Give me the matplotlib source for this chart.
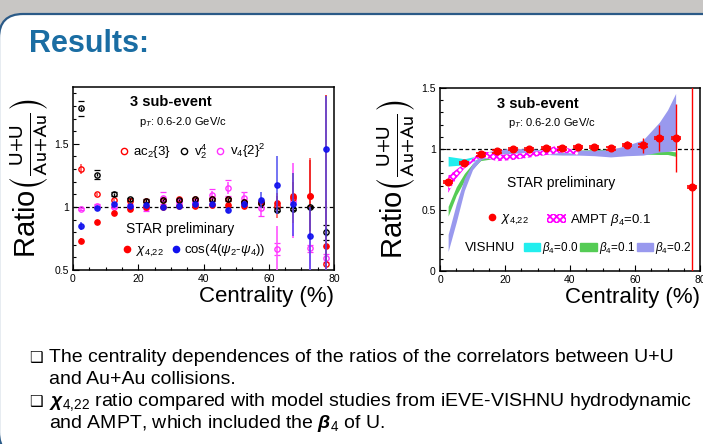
import matplotlib
matplotlib.use("Agg")
import matplotlib.pyplot as plt
from matplotlib.patches import FancyBboxPatch, Patch
from matplotlib.lines import Line2D
from matplotlib.ticker import MultipleLocator

plt.rcParams['font.family'] = ['Liberation Sans', 'DejaVu Sans']
plt.rcParams['mathtext.fontset'] = 'custom'
plt.rcParams['mathtext.rm'] = 'Liberation Sans'
plt.rcParams['mathtext.it'] = 'Liberation Sans:italic'
plt.rcParams['mathtext.bf'] = 'Liberation Sans:italic:bold'
plt.rcParams['hatch.linewidth'] = 1.3

# ---- data: left panel (ratio U+U / Au+Au vs centrality) ----
cent = [2.5, 7.5, 12.5, 17.5, 22.5, 27.5, 32.5, 37.5,
        42.5, 47.5, 52.5, 57.5, 62.5, 67.5, 72.5, 77.5]

ac2 = [1.30, 1.10, 1.055, 1.045, 1.05, 1.055, 1.06, 1.06,
       1.06, 1.065, 1.04, 1.03, 1.01, 1.07, 1.09, 0.545]
ac2_err = [0.04, 0.01, 0.01, 0.01, 0.01, 0.01, 0.01, 0.01,
           0.01, 0.02, 0.02, 0.03, 0.1, 0.2, 0.3, 0.5]

v24 = [1.78, 1.255, 1.10, 1.06, 1.05, 1.055, 1.055, 1.06,
       1.06, 1.06, 1.04, 1.03, 0.978, 0.985, 1.0, 0.80]
v24_err = [0.01, 0.01, 0.01, 0.01, 0.01, 0.01, 0.01, 0.01,
           0.01, 0.01, 0.01, 0.01, 0.01, 0.01, 0.01, 0.03]
v24_sys = [0.06, 0.035, 0.015, 0.01, 0.01, 0.01, 0.01, 0.01,
           0.01, 0.01, 0.01, 0.01, 0.01, 0.01, 0.01, 0.06]

v42 = [0.985, 1.01, 1.0, 1.0, 0.99, 1.07, 1.04, 1.04,
       1.095, 1.15, 1.07, 0.99, 0.667, 1.05, 0.672, 0.593]
v42_err = [0.01, 0.01, 0.01, 0.01, 0.01, 0.02, 0.02, 0.02,
           0.03, 0.05, 0.05, 0.06, 0.18, 0.3, 0.3, 0.4]
v42_sys = [0.01, 0.01, 0.01, 0.02, 0.02, 0.045, 0.02, 0.02,
           0.05, 0.065, 0.05, 0.06, 0.05, 0.03, 0.03, 0.03]

chi = [0.73, 0.883, 0.955, 0.98, 1.0, 1.0, 1.01, 1.005,
       1.015, 1.015, 1.005, 1.035, 1.03, 1.09, 1.09, 0.69]
chi_err = [0.02, 0.01, 0.01, 0.01, 0.01, 0.01, 0.01, 0.01,
           0.01, 0.01, 0.01, 0.03, 0.06, 0.11, 0.28, 1.2]

cos42 = [0.85, 0.99, 1.02, 1.01, 1.015, 1.0, 1.01, 1.02,
         1.02, 0.975, 1.02, 1.055, 1.175, 1.02, 0.772, 1.46]
cos42_lo = [0.03, 0.01, 0.01, 0.01, 0.01, 0.01, 0.01, 0.01,
            0.02, 0.02, 0.03, 0.06, 0.23, 0.25, 0.4, 1.0]
cos42_hi = [0.03, 0.01, 0.01, 0.01, 0.01, 0.01, 0.01, 0.01,
            0.02, 0.02, 0.03, 0.06, 0.23, 0.25, 0.23, 0.42]

# ---- data: right panel model bands ----
band_x = [2.5, 5, 7.5, 10, 12.5, 15, 17.5, 20, 22.5, 27.5,
          32.5, 37.5, 42.5, 47.5, 52.5, 57.5, 62.5, 67.5, 70, 72.5]
b00_lo = [0.86, 0.865, 0.87, 0.895, 0.92, 0.93, 0.935, 0.94, 0.945, 0.95,
          0.955, 0.955, 0.96, 0.96, 0.96, 0.96, 0.96, 0.96, 0.96, 0.96]
b00_hi = [0.94, 0.93, 0.92, 0.935, 0.96, 0.965, 0.97, 0.97, 0.975, 0.975,
          0.98, 0.98, 0.985, 0.985, 0.985, 0.985, 0.985, 0.98, 0.98, 0.975]
b01_lo = [0.45, 0.62, 0.74, 0.84, 0.905, 0.915, 0.92, 0.93, 0.94, 0.95,
          0.955, 0.96, 0.965, 0.97, 0.97, 0.965, 0.96, 0.955, 0.955, 0.94]
b01_hi = [0.53, 0.69, 0.80, 0.88, 0.93, 0.94, 0.95, 0.96, 0.97, 0.97,
          0.975, 0.98, 0.99, 0.995, 1.0, 1.0, 0.995, 0.99, 0.985, 0.975]
b02_lo = [0.16, 0.40, 0.66, 0.83, 0.91, 0.935, 0.95, 0.955, 0.96, 0.96,
          0.955, 0.95, 0.95, 0.945, 0.935, 0.945, 0.95, 0.975, 0.98, 0.99]
b02_hi = [0.30, 0.55, 0.76, 0.88, 0.955, 0.98, 0.99, 1.0, 1.005, 1.0,
          0.995, 0.99, 0.99, 0.99, 0.995, 1.03, 1.075, 1.22, 1.32, 1.455]

ampt_x = [2.5, 5, 7.5, 10, 12.5, 15, 17.5, 20, 22.5, 25,
          27.5, 30, 32.5, 35, 37.5, 40, 42.5]
ampt_lo = [0.64, 0.76, 0.84, 0.89, 0.93, 0.92, 0.90, 0.905, 0.91, 0.92,
           0.93, 0.94, 0.95, 0.96, 0.97, 0.965, 0.95]
ampt_hi = [0.78, 0.83, 0.88, 0.92, 0.98, 0.975, 0.955, 0.955, 0.96, 0.965,
           0.97, 0.98, 0.995, 1.02, 1.03, 1.0, 0.98]

W, H = 703, 444
CHI = r'$\chi_{4{,}22}$'


def px(x, y):
    return x / W, 1 - y / H


def style_axes(ax, ylim, yticks, ylabels):
    ax.set_xlim(0, 80)
    ax.set_ylim(*ylim)
    ax.set_xticks([0, 20, 40, 60, 80])
    ax.set_yticks(yticks)
    ax.set_yticklabels(ylabels)
    ax.xaxis.set_minor_locator(MultipleLocator(5))
    ax.yaxis.set_minor_locator(MultipleLocator(0.1))
    ax.tick_params(which='both', direction='in', labelsize=7.5, pad=3,
                   top=False, right=False, width=0.8)
    ax.tick_params(which='major', length=4.5)
    ax.tick_params(which='minor', length=2.2)
    for sp in ax.spines.values():
        sp.set_linewidth(1.1)
    ax.axhline(1.0, color='black', ls=(0, (3, 2)), lw=0.9, zorder=1)
    ax.set_xlabel('Centrality (%)', fontsize=16, ha='right', x=1.0, labelpad=1)
    ax.set_ylabel(r'Ratio$\left(\frac{\mathrm{U{+}U}}{\mathrm{Au{+}Au}}\right)$',
                  fontsize=21, math_fontfamily='stixsans')
    ax.yaxis.set_label_coords(-0.09, 0.5)


fig = plt.figure(figsize=(W / 100, H / 100), dpi=100)
fig.patch.set_facecolor('#c8c6c4')
slide = FancyBboxPatch((-0.01, -0.12), 7.4, 4.42,
                       boxstyle='round,pad=0,rounding_size=0.24',
                       transform=fig.dpi_scale_trans, facecolor='white',
                       edgecolor='#2b5a87', linewidth=1.6, zorder=-10)
fig.add_artist(slide)

fig.text(*px(29, 44), 'Results:', fontsize=22, fontweight='bold',
         color='#1a6da3', va='center', ha='left')

# ---------------- left panel ----------------
ax1 = fig.add_axes([73 / W, 1 - 270 / H, 261 / W, 183 / H])
style_axes(ax1, (0.5, 1.95), [0.5, 1, 1.5], ['0.5', '1', '1.5'])

ms = 3.8
ax1.errorbar(cent, v42, yerr=v42_sys, fmt='none', ecolor='#ff33ff',
             elinewidth=0, capsize=2, capthick=0.9, zorder=3)
ax1.errorbar(cent, v24, yerr=v24_sys, fmt='none', ecolor='black',
             elinewidth=0, capsize=2, capthick=0.9, zorder=3)
ax1.errorbar(cent, v42, yerr=v42_err, fmt='o', ms=ms, mfc='none', mec='#ff33ff',
             mew=1.0, ecolor='#ff55ff', elinewidth=1.2, zorder=4)
ax1.errorbar(cent, ac2, yerr=ac2_err, fmt='o', ms=ms, mfc='none', mec='red',
             mew=1.0, ecolor='#ff5555', elinewidth=1.2, zorder=4)
ax1.errorbar(cent, chi, yerr=chi_err, fmt='o', ms=ms, color='red',
             ecolor='#ee2222', elinewidth=1.2, zorder=5)
ax1.errorbar(cent, v24, yerr=v24_err, fmt='o', ms=ms, mfc='none', mec='black',
             mew=1.0, ecolor='black', elinewidth=1.0, zorder=5)
ax1.errorbar(cent, cos42, yerr=[cos42_lo, cos42_hi], fmt='o', ms=ms,
             color='#1010ee', ecolor='#4a4af0', elinewidth=1.2, alpha=0.9,
             zorder=6)

ax1.text(29.9, 1.83, '3 sub-event', fontsize=10.5, fontweight='bold',
         ha='center', va='center')
ax1.text(20.2, 1.675, r'p$_T$: 0.6-2.0 GeV/c', fontsize=8, va='center')
ax1.text(16.2, 0.825, 'STAR preliminary', fontsize=10, va='center')

open_h = [Line2D([], [], ls='none', marker='o', ms=4.5, mfc='none', mew=1, mec=c)
          for c in ('red', 'black', '#ff33ff')]
leg1 = ax1.legend(open_h, [r'ac$_2${3}', r'v$_2^4$', r'v$_4${2}$^2$'],
                  ncol=3, loc='center left', bbox_to_anchor=(0.176, 0.648),
                  frameon=False, fontsize=9.5, handlelength=0.8,
                  handletextpad=0.3, columnspacing=0.6, borderpad=0,
                  borderaxespad=0)
ax1.add_artist(leg1)
fill_h = [Line2D([], [], ls='none', marker='o', ms=4.5, color=c)
          for c in ('red', '#1010ee')]
ax1.legend(fill_h, [CHI, r'cos(4($\psi_2$-$\psi_4$))'],
           ncol=2, loc='center left', bbox_to_anchor=(0.188, 0.106),
           frameon=False, fontsize=9.5, handlelength=0.8, handletextpad=0.25,
           columnspacing=0.5, borderpad=0, borderaxespad=0)

# ---------------- right panel ----------------
ax2 = fig.add_axes([440 / W, 1 - 271 / H, 260 / W, 183 / H])
style_axes(ax2, (0, 1.5), [0, 0.5, 1, 1.5], ['0', '0.5', '1', '1.5'])

ax2.fill_between(band_x, b00_lo, b00_hi, color='#22eeee', lw=0, zorder=2)
ax2.fill_between(band_x, b01_lo, b01_hi, color='#55cc55', lw=0, zorder=2)
ax2.fill_between(band_x, b02_lo, b02_hi, color='#9999ee', lw=0, zorder=2)
ax2.fill_between(ampt_x, ampt_lo, ampt_hi, facecolor='white', edgecolor='#ff00ff',
                 hatch='xxxxx', lw=0, zorder=3)
ax2.errorbar(cent, chi, yerr=[0.01] * len(cent), fmt='none', ecolor='red',
             elinewidth=0, capsize=3.5, capthick=1.2, zorder=5)
ax2.errorbar(cent, chi, yerr=chi_err, fmt='o', ms=4.8, color='red',
             ecolor='red', elinewidth=1.0, zorder=5)

ax2.text(30, 1.37, '3 sub-event', fontsize=10.5, fontweight='bold',
         ha='center', va='center')
ax2.text(20.9, 1.21, r'p$_T$: 0.6-2.0 GeV/c', fontsize=8, va='center')
ax2.text(20.6, 0.72, 'STAR preliminary', fontsize=10, va='center')
ax2.text(7.7, 0.19, 'VISHNU', fontsize=9.5, va='center')

chi_leg = ax2.legend([Line2D([], [], ls='none', marker='o', ms=4.5, color='red')],
                     [CHI], loc='center left',
                     bbox_to_anchor=(0.18, 0.278), frameon=False, fontsize=9.5,
                     handlelength=0.8, handletextpad=0.25, borderpad=0,
                     borderaxespad=0)
ax2.add_artist(chi_leg)
ampt_leg = ax2.legend([Patch(facecolor='white', edgecolor='#ff00ff', hatch='xxxxx', lw=0)],
                      [r'AMPT $\beta_4$=0.1'], loc='center left',
                      bbox_to_anchor=(0.41, 0.278), frameon=False, fontsize=9.5,
                      handlelength=1.5, handletextpad=0.3, borderpad=0,
                      borderaxespad=0)
ax2.add_artist(ampt_leg)
ax2.legend([Patch(color='#22eeee'), Patch(color='#55cc55'), Patch(color='#9999ee')],
           [r'$\beta_4$=0.0', r'$\beta_4$=0.1', r'$\beta_4$=0.2'], ncol=3,
           loc='center left', bbox_to_anchor=(0.322, 0.127), frameon=False,
           fontsize=8.4, handlelength=1.4, handletextpad=0.15,
           columnspacing=0.2, borderpad=0, borderaxespad=0)

# ---------------- bullets ----------------
bullet_font = ['Liberation Sans', 'DejaVu Sans']
for y in (362, 406):
    fig.text(*px(29, y), '\u2751', fontsize=11, family=['DejaVu Sans'],
             va='baseline')
lines = [(362, 'The centrality dependences of the ratios of the correlators between U+U'),
         (384, 'and Au+Au collisions.'),
         (406, r'$\mathbf{χ}_{4{,}22}$ ratio compared with model studies from iEVE-VISHNU hydrodynamic'),
         (428, r'and AMPT, which included the $\mathbf{β}_4$ of U.')]
for y, s in lines:
    fig.text(*px(49, y), s, fontsize=14, family=bullet_font, va='baseline')

fig.savefig('out.png', dpi=100, facecolor=fig.get_facecolor())
